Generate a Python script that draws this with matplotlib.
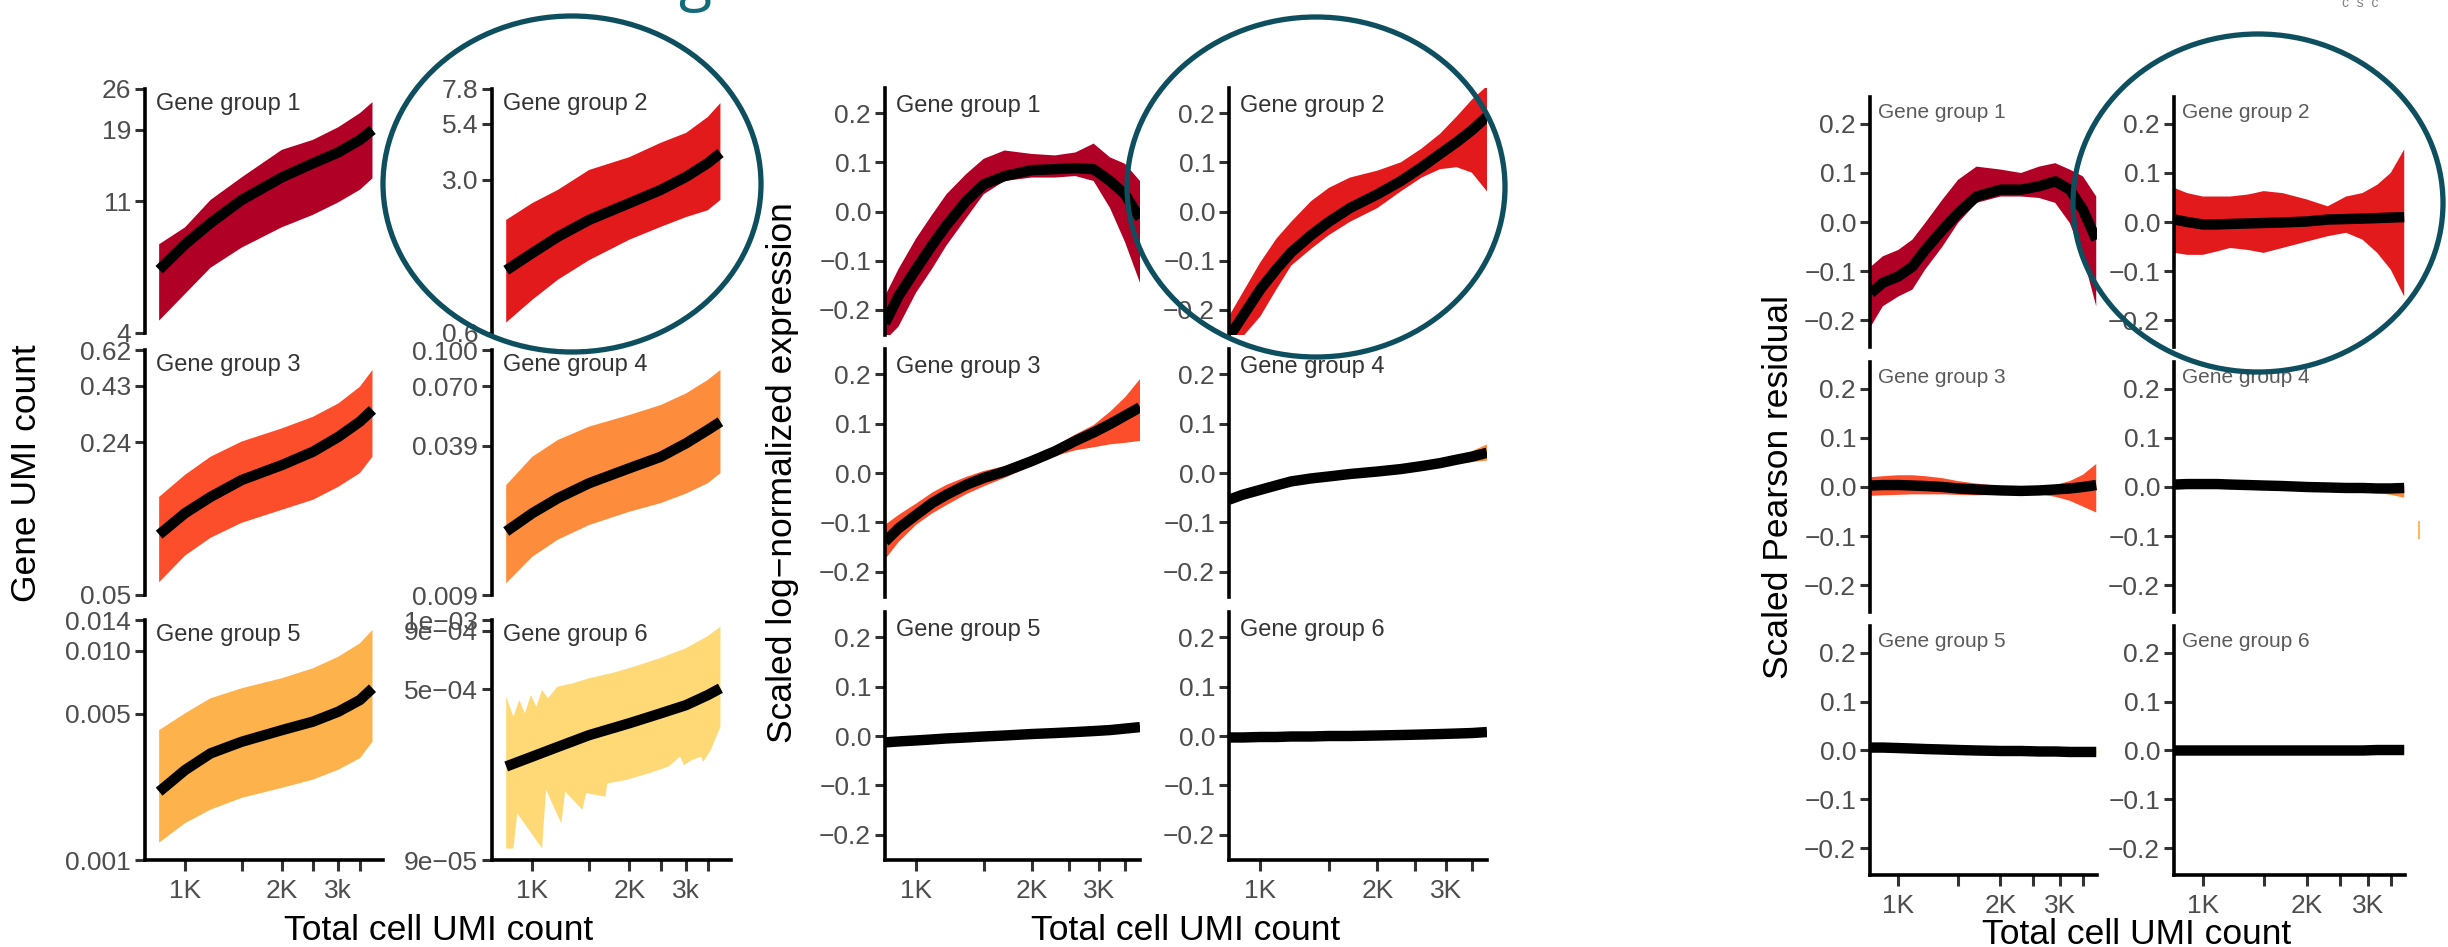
import matplotlib
matplotlib.use('Agg')
import matplotlib.pyplot as plt
from matplotlib.patches import Ellipse
from matplotlib.lines import Line2D
from matplotlib.ticker import NullLocator

plt.rcParams['font.family'] = ['Liberation Sans', 'DejaVu Sans']

W, H = 2448, 947
fig = plt.figure(figsize=(W / 100, H / 100), dpi=100)

group_colors = ['#b10026', '#e31a1c', '#fc4e2a', '#fd8d3c', '#feb24c', '#fed976']
group_names = ['Gene group %d' % i for i in range(1, 7)]

#####################################
# left block: gene UMI count (log y)
umi_a = [830, 1000, 1200, 1500, 2000, 2500, 3000, 3500, 3830]

g1_mean = [6.5, 7.9, 9.3, 11.1, 13.2, 14.7, 16.0, 17.6, 19.0]
g1_hi = [7.9, 9.0, 11.1, 13.2, 16.3, 17.6, 19.4, 21.6, 23.5]
g1_lo = [4.4, 5.4, 6.6, 7.7, 9.0, 9.9, 10.9, 12.0, 13.1]

g2_mean = [1.16, 1.39, 1.65, 1.97, 2.35, 2.70, 3.10, 3.58, 3.98]
g2_hi = [1.97, 2.35, 2.70, 3.33, 3.81, 4.43, 4.92, 5.81, 6.73]
g2_lo = [0.67, 0.85, 1.05, 1.29, 1.60, 1.83, 2.03, 2.18, 2.43]

g3_mean = [0.093, 0.116, 0.137, 0.163, 0.190, 0.218, 0.254, 0.297, 0.335]
g3_hi = [0.137, 0.172, 0.207, 0.242, 0.277, 0.312, 0.358, 0.425, 0.505]
g3_lo = [0.057, 0.075, 0.090, 0.105, 0.120, 0.133, 0.152, 0.175, 0.207]

g4_mean = [0.0168, 0.0201, 0.0233, 0.0270, 0.0313, 0.0350, 0.0400, 0.0456, 0.0494]
g4_hi = [0.0265, 0.0350, 0.0413, 0.0471, 0.0528, 0.0582, 0.0653, 0.0745, 0.0822]
g4_lo = [0.0101, 0.0131, 0.0155, 0.0179, 0.0204, 0.0222, 0.0244, 0.0270, 0.0298]

g5_mean = [0.00212, 0.00269, 0.00323, 0.00367, 0.00417, 0.00458, 0.00511, 0.00581, 0.00661]
g5_hi = [0.00417, 0.00502, 0.00592, 0.00661, 0.00738, 0.00823, 0.00935, 0.01083, 0.01254]
g5_lo = [0.00121, 0.00150, 0.00174, 0.00198, 0.00221, 0.00242, 0.00270, 0.00306, 0.00367]

g6_mean = [2.30e-4, 2.54e-4, 2.80e-4, 3.15e-4, 3.55e-4, 3.92e-4, 4.26e-4, 4.71e-4, 5.04e-4]
# group 6 has a ragged ribbon, so its edges carry their own x values
g6_hi_x = [830, 874, 911, 949, 989, 1030, 1072, 1118, 1197, 1336, 1497, 1754, 1990,
           2483, 2990, 3477, 3830]
g6_hi = [4.63e-4, 3.79e-4, 4.48e-4, 3.92e-4, 4.71e-4, 4.19e-4, 4.96e-4, 4.56e-4, 5.12e-4,
         5.30e-4, 5.57e-4, 5.86e-4, 6.16e-4, 6.81e-4, 7.53e-4, 8.46e-4, 9.35e-4]
g6_lo_x = [830, 874, 898, 1072, 1103, 1230, 1264, 1429, 1469, 1685, 1708, 1957, 2307,
           2645, 2872, 2950, 3117, 3338, 3384, 3573, 3830]
g6_lo = [1.01e-4, 1.01e-4, 1.44e-4, 1.01e-4, 1.82e-4, 1.30e-4, 1.79e-4, 1.49e-4, 1.76e-4,
         1.70e-4, 1.94e-4, 2.01e-4, 2.15e-4, 2.30e-4, 2.54e-4, 2.33e-4, 2.45e-4, 2.54e-4,
         2.41e-4, 2.71e-4, 3.43e-4]

umi_ylim = [(4, 26), (0.6, 7.8), (0.05, 0.62), (0.009, 0.100), (0.001, 0.014), (9e-05, 1e-03)]
umi_yticks = [[4, 11, 19, 26], [0.6, 3.0, 5.4, 7.8], [0.05, 0.24, 0.43, 0.62],
              [0.009, 0.039, 0.070, 0.100], [0.001, 0.005, 0.010, 0.014],
              [9e-05, 5e-04, 9e-04, 1e-03]]
umi_ylabels = [['4', '11', '19', '26'], ['0.6', '3.0', '5.4', '7.8'],
               ['0.05', '0.24', '0.43', '0.62'], ['0.009', '0.039', '0.070', '0.100'],
               ['0.001', '0.005', '0.010', '0.014'], ['9e\u221205', '5e\u221204', '9e\u221204', '1e\u221203']]

#####################################
# middle + right blocks: scaled values (linear y)
umi_b = [830, 900, 1000, 1100, 1200, 1350, 1500, 1700, 2000, 2300, 2600, 2900, 3200, 3500, 3830]

lognorm_mean = [
    [-0.227, -0.172, -0.117, -0.069, -0.028, 0.021, 0.055, 0.072, 0.084, 0.086, 0.088, 0.086, 0.062, 0.035, -0.014],
    [-0.255, -0.213, -0.158, -0.117, -0.083, -0.048, -0.021, 0.007, 0.035, 0.062, 0.090, 0.117, 0.141, 0.165, 0.193],
    [-0.139, -0.112, -0.085, -0.061, -0.044, -0.024, -0.010, 0.003, 0.024, 0.044, 0.065, 0.082, 0.099, 0.116, 0.133],
    [-0.054, -0.044, -0.034, -0.025, -0.017, -0.011, -0.007, -0.002, 0.003, 0.008, 0.014, 0.020, 0.027, 0.033, 0.041],
    [-0.013, -0.011, -0.009, -0.007, -0.005, -0.003, -0.001, 0.001, 0.004, 0.006, 0.008, 0.010, 0.012, 0.015, 0.018],
    [-0.003, -0.003, -0.002, -0.002, -0.001, -0.001, 0.000, 0.000, 0.001, 0.002, 0.003, 0.004, 0.005, 0.006, 0.008],
]
lognorm_hi = [
    [-0.172, -0.117, -0.055, -0.007, 0.035, 0.076, 0.107, 0.124, 0.117, 0.114, 0.120, 0.138, 0.110, 0.097, 0.062],
    [-0.213, -0.165, -0.103, -0.055, -0.021, 0.021, 0.048, 0.069, 0.083, 0.100, 0.128, 0.158, 0.193, 0.227, 0.255],
    [-0.105, -0.085, -0.062, -0.040, -0.024, -0.008, 0.004, 0.014, 0.034, 0.054, 0.078, 0.097, 0.124, 0.153, 0.190],
    [-0.046, -0.036, -0.026, -0.017, -0.009, -0.003, 0.001, 0.006, 0.011, 0.016, 0.022, 0.028, 0.036, 0.044, 0.058],
    [-0.007, -0.005, -0.003, -0.001, 0.001, 0.003, 0.005, 0.007, 0.010, 0.012, 0.014, 0.016, 0.018, 0.021, 0.024],
    [0.003, 0.003, 0.004, 0.004, 0.005, 0.005, 0.006, 0.006, 0.007, 0.008, 0.009, 0.010, 0.011, 0.012, 0.014],
]
lognorm_lo = [
    [-0.262, -0.234, -0.165, -0.117, -0.069, -0.014, 0.035, 0.062, 0.069, 0.069, 0.072, 0.062, 0.007, -0.062, -0.145],
    [-0.262, -0.255, -0.213, -0.158, -0.110, -0.076, -0.048, -0.021, 0.007, 0.041, 0.069, 0.086, 0.090, 0.079, 0.041],
    [-0.175, -0.140, -0.105, -0.082, -0.065, -0.043, -0.027, -0.010, 0.014, 0.034, 0.046, 0.052, 0.058, 0.061, 0.065],
    [-0.062, -0.052, -0.042, -0.033, -0.025, -0.019, -0.015, -0.010, -0.005, 0.000, 0.006, 0.012, 0.018, 0.022, 0.025],
    [-0.019, -0.017, -0.015, -0.013, -0.011, -0.009, -0.007, -0.005, -0.002, 0.000, 0.002, 0.004, 0.006, 0.009, 0.012],
    [-0.009, -0.009, -0.008, -0.008, -0.007, -0.007, -0.006, -0.006, -0.005, -0.004, -0.003, -0.002, -0.001, 0.000, 0.002],
]

pearson_mean = [
    [-0.145, -0.124, -0.111, -0.091, -0.057, -0.016, 0.018, 0.052, 0.066, 0.066, 0.073, 0.083, 0.066, 0.025, -0.036],
    [0.005, 0.000, -0.005, -0.005, -0.004, -0.003, -0.002, -0.001, 0.001, 0.005, 0.006, 0.007, 0.008, 0.009, 0.010],
    [0.003, 0.004, 0.004, 0.003, 0.002, 0.000, -0.003, -0.005, -0.007, -0.008, -0.007, -0.005, -0.003, 0.000, 0.004],
    [0.005, 0.006, 0.006, 0.006, 0.005, 0.004, 0.003, 0.002, 0.000, -0.001, -0.002, -0.002, -0.003, -0.003, -0.002],
    [0.006, 0.006, 0.005, 0.004, 0.003, 0.002, 0.001, 0.000, -0.001, -0.001, -0.002, -0.002, -0.003, -0.003, -0.003],
    [0.000, 0.000, 0.000, 0.000, 0.000, 0.000, 0.000, 0.000, 0.000, 0.000, 0.000, 0.000, 0.001, 0.001, 0.001],
]
pearson_hi = [
    [-0.091, -0.070, -0.057, -0.036, -0.002, 0.046, 0.086, 0.113, 0.107, 0.100, 0.113, 0.120, 0.107, 0.093, 0.052],
    [0.069, 0.059, 0.052, 0.052, 0.052, 0.056, 0.063, 0.059, 0.046, 0.032, 0.052, 0.059, 0.076, 0.100, 0.148],
    [0.020, 0.022, 0.024, 0.024, 0.022, 0.018, 0.012, 0.007, 0.002, 0.000, 0.000, 0.004, 0.012, 0.025, 0.047],
    [0.011, 0.012, 0.012, 0.012, 0.011, 0.010, 0.009, 0.008, 0.006, 0.005, 0.004, 0.004, 0.003, 0.003, 0.004],
    [0.014, 0.014, 0.012, 0.010, 0.009, 0.008, 0.007, 0.006, 0.005, 0.005, 0.004, 0.004, 0.003, 0.003, 0.003],
    [0.006, 0.006, 0.006, 0.006, 0.006, 0.006, 0.006, 0.006, 0.006, 0.006, 0.006, 0.006, 0.007, 0.007, 0.007],
]
pearson_lo = [
    [-0.213, -0.172, -0.152, -0.138, -0.097, -0.050, -0.002, 0.039, 0.052, 0.052, 0.049, 0.039, -0.002, -0.070, -0.172],
    [-0.063, -0.067, -0.067, -0.060, -0.053, -0.057, -0.063, -0.053, -0.040, -0.029, -0.022, -0.036, -0.063, -0.097, -0.152],
    [-0.018, -0.017, -0.016, -0.015, -0.015, -0.015, -0.016, -0.017, -0.016, -0.014, -0.015, -0.020, -0.028, -0.040, -0.052],
    [-0.001, 0.000, 0.000, 0.000, -0.001, -0.002, -0.003, -0.004, -0.006, -0.007, -0.008, -0.009, -0.012, -0.016, -0.022],
    [-0.002, -0.002, -0.002, -0.003, -0.004, -0.005, -0.006, -0.007, -0.007, -0.007, -0.008, -0.008, -0.009, -0.009, -0.009],
    [-0.006, -0.006, -0.006, -0.006, -0.006, -0.006, -0.006, -0.006, -0.006, -0.006, -0.006, -0.006, -0.005, -0.005, -0.005],
]

scaled_ticks = [-0.2, -0.1, 0.0, 0.1, 0.2]
scaled_labels = ['\u22120.2', '\u22120.1', '0.0', '0.1', '0.2']
x_ticks = [1000, 1500, 2000, 2500, 3000, 3500]
x_labels_a = ['1K', '', '2K', '', '3k', '']
x_labels_b = ['1K', '', '2K', '', '3K', '']

# panel boxes in pixels: (col lefts/rights, row tops/bottoms)
box_a = ([(145, 383), (492, 731)], [(89, 333), (350, 595), (620, 860)])
box_b = ([(885, 1140), (1229, 1487)], [(88, 335), (349, 597), (612, 860)])
box_c = ([(1870, 2097), (2174, 2405)], [(97, 347), (362, 612), (626, 875)])

LINE_W = 7.5
TICK_GREY = '#4d4d4d'
TICK_SIZE = 19
TITLE_SIZE = 25.5


def make_axes(box, k):
    cols, rows = box
    (l, r), (t, b) = cols[k % 2], rows[k // 2]
    return fig.add_axes([l / W, 1 - b / H, (r - l) / W, (b - t) / H])


def style(ax, k, xlabels, label_off, label_size, label_col):
    bottom_row = k >= 4
    ax.set_xscale('log')
    ax.patch.set_alpha(0)
    for s in ('top', 'right'):
        ax.spines[s].set_visible(False)
    ax.spines['left'].set_linewidth(2.6)
    ax.tick_params(axis='y', direction='out', length=7, width=2.2, color='#333333',
                   labelsize=TICK_SIZE, labelcolor=TICK_GREY, pad=3)
    ax.xaxis.set_minor_locator(NullLocator())
    ax.set_xticks(x_ticks)
    if bottom_row:
        ax.spines['bottom'].set_linewidth(2.6)
        ax.set_xticklabels(xlabels)
        ax.tick_params(axis='x', direction='out', length=8, width=2.2, color='#333333',
                       labelsize=TICK_SIZE, labelcolor=TICK_GREY, pad=6)
    else:
        ax.spines['bottom'].set_visible(False)
        ax.tick_params(axis='x', bottom=False, labelbottom=False)
    ax.annotate(group_names[k], xy=(0, 1), xycoords='axes fraction',
                xytext=label_off, textcoords='offset points', ha='left', va='top',
                fontsize=label_size, color=label_col)


def draw_band(ax, x, lo, hi, mean, color, lo_x=None, hi_x=None):
    hx = x if hi_x is None else hi_x
    lx = x if lo_x is None else lo_x
    ax.fill(list(hx) + list(lx)[::-1], list(hi) + list(lo)[::-1],
            color=color, lw=0, zorder=1)
    ax.plot(x, mean, color='black', lw=LINE_W, solid_capstyle='butt', zorder=2)


####### gene UMI count ########
umi_mean = [g1_mean, g2_mean, g3_mean, g4_mean, g5_mean, g6_mean]
umi_hi = [g1_hi, g2_hi, g3_hi, g4_hi, g5_hi, g6_hi]
umi_lo = [g1_lo, g2_lo, g3_lo, g4_lo, g5_lo, g6_lo]
for k in range(6):
    ax = make_axes(box_a, k)
    if k == 5:
        draw_band(ax, umi_a, umi_lo[k], umi_hi[k], umi_mean[k], group_colors[k],
                  lo_x=g6_lo_x, hi_x=g6_hi_x)
    else:
        draw_band(ax, umi_a, umi_lo[k], umi_hi[k], umi_mean[k], group_colors[k])
    ax.set_yscale('log')
    ax.yaxis.set_minor_locator(NullLocator())
    ax.set_ylim(*umi_ylim[k])
    ax.set_yticks(umi_yticks[k])
    ax.set_yticklabels(umi_ylabels[k])
    ax.set_xlim(750, 4130)
    style(ax, k, x_labels_a, (8, -3), 17, '#333333')

####### scaled log-normalized expression ########
for k in range(6):
    ax = make_axes(box_b, k)
    draw_band(ax, umi_b, lognorm_lo[k], lognorm_hi[k], lognorm_mean[k], group_colors[k])
    ax.set_ylim(-0.251, 0.251)
    ax.set_yticks(scaled_ticks)
    ax.set_yticklabels(scaled_labels)
    ax.set_xlim(830, 3830)
    style(ax, k, x_labels_b, (8, -5), 17, '#333333')

####### scaled Pearson residual ########
for k in range(6):
    ax = make_axes(box_c, k)
    draw_band(ax, umi_b, pearson_lo[k], pearson_hi[k], pearson_mean[k], group_colors[k])
    ax.set_ylim(-0.255, 0.255)
    ax.set_yticks(scaled_ticks)
    ax.set_yticklabels(scaled_labels)
    ax.set_xlim(825, 3850)
    style(ax, k, x_labels_b, (6, -4), 15, '#5a5a5a')

# axis titles
fig.text(27 / W, 1 - 473 / H, 'Gene UMI count', rotation=90, ha='center', va='center',
         fontsize=TITLE_SIZE)
fig.text(783 / W, 1 - 473 / H, 'Scaled log\u2212normalized expression', rotation=90,
         ha='center', va='center', fontsize=TITLE_SIZE)
fig.text(1778 / W, 1 - 487 / H, 'Scaled Pearson residual', rotation=90,
         ha='center', va='center', fontsize=TITLE_SIZE)
for cx, cy in [(439, 930), (1186, 930), (2137, 934)]:
    fig.text(cx / W, 1 - cy / H, 'Total cell UMI count', ha='center', va='center',
             fontsize=TITLE_SIZE)

# highlight rings around gene group 2
ring = '#0d4f5e'
for cx, cy, w, h in [(572, 184, 378, 336), (1316, 187, 378, 340), (2258, 203, 370, 338)]:
    fig.add_artist(Ellipse((cx / W, 1 - cy / H), w / W, h / H, transform=fig.transFigure,
                           fill=False, ec=ring, lw=3.8, zorder=10))

# slide leftovers along the top edge
fig.text(678 / W, 1 + 1 / H, 'g', fontsize=44, color='#136a7a', ha='left', va='baseline',
         family='Open Sans')
fig.text(2342 / W, 1 - 7 / H, 'c  s  c', fontsize=10, color='#808080', ha='left',
         va='baseline')
fig.add_artist(Line2D([2419 / W, 2419 / W], [1 - 522 / H, 1 - 538 / H],
                      transform=fig.transFigure, color='#fdb863', lw=1.5))

fig.savefig('out.png', dpi=100)
